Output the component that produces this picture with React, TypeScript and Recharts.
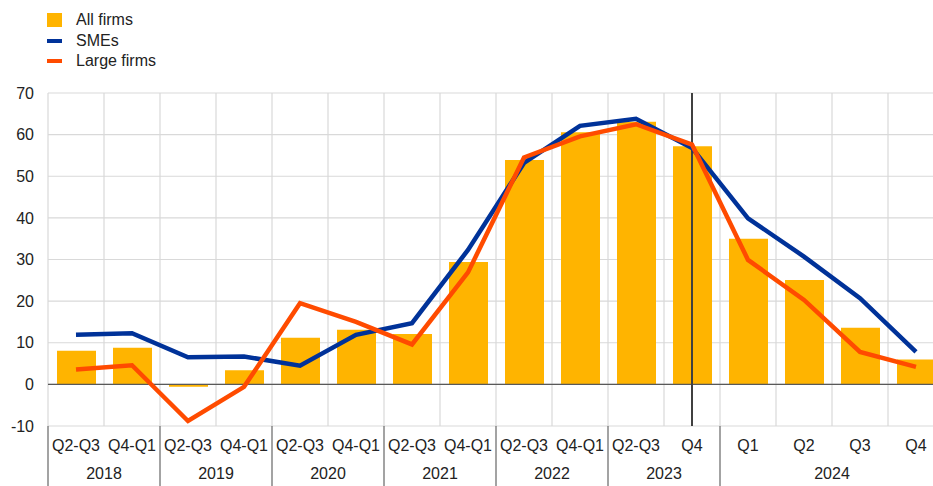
import { ComposedChart, Bar, Line, XAxis, YAxis, CartesianGrid, ReferenceLine } from 'recharts'

// Survey periods (x axis), year groups and series values in %
const periods = [
  'Q2-Q3', 'Q4-Q1', 'Q2-Q3', 'Q4-Q1', 'Q2-Q3', 'Q4-Q1', 'Q2-Q3', 'Q4-Q1',
  'Q2-Q3', 'Q4-Q1', 'Q2-Q3', 'Q4', 'Q1', 'Q2', 'Q3', 'Q4',
]
const years = [
  '2018', '2018', '2019', '2019', '2020', '2020', '2021', '2021',
  '2022', '2022', '2023', '2023', '2024', '2024', '2024', '2024',
]
const allFirms = [8.1, 8.8, -0.6, 3.4, 11.2, 13.1, 12.1, 29.4, 53.9, 60.6, 63.1, 57.2, 35.0, 25.1, 13.6, 6.0]
const smes = [11.9, 12.3, 6.5, 6.7, 4.5, 11.9, 14.7, 32.3, 53.2, 62.1, 63.8, 56.8, 39.9, 30.7, 20.7, 7.8]
const largeFirms = [3.6, 4.6, -8.8, -0.6, 19.5, 15.0, 9.6, 26.9, 54.5, 59.6, 62.5, 57.6, 29.9, 20.3, 7.8, 4.2]
const yTicks = [-10, 0, 10, 20, 30, 40, 50, 60, 70]
const markerKey = '2023 Q4'

const COLORS = {
  all: '#FFB400',
  smes: '#003299',
  large: '#FF4B00',
  grid: '#d9d9d9',
  text: '#222222',
}

const FONT = '"Liberation Sans", Arial, sans-serif'

const CHART_W = 950
const CHART_H = 486
const Y_AXIS_W = 48
const RIGHT_MARGIN = 6
const PLOT_W = CHART_W - Y_AXIS_W - RIGHT_MARGIN
const BAND = PLOT_W / periods.length

const data = periods.map((p, i) => ({
  key: `${years[i]} ${p}`,
  period: p,
  year: years[i],
  all: allFirms[i],
  smes: smes[i],
  large: largeFirms[i],
}))

function PeriodTick(props: any) {
  const { x, y, index } = props
  const row = data[index]
  if (!row) return null
  const isGroupStart = index === 0 || data[index - 1].year !== row.year
  let groupSize = 0
  if (isGroupStart) {
    let j = index
    while (j < data.length && data[j].year === row.year) {
      groupSize++
      j++
    }
  }
  const left = x - BAND / 2
  return (
    <g>
      <text x={x} y={y + 25} textAnchor="middle" fill={COLORS.text} fontSize={16} fontFamily={FONT}>
        {row.period}
      </text>
      {isGroupStart && (
        <>
          <line x1={left} x2={left} y1={y} y2={y + 62} stroke="#666" strokeWidth={1.2} />
          <text
            x={left + (groupSize * BAND) / 2}
            y={y + 53}
            textAnchor="middle"
            fill={COLORS.text}
            fontSize={16}
            fontFamily={FONT}
          >
            {row.year}
          </text>
        </>
      )}
    </g>
  )
}

function LegendBox() {
  const items = [
    { name: 'All firms', color: COLORS.all, type: 'box' },
    { name: 'SMEs', color: COLORS.smes, type: 'line' },
    { name: 'Large firms', color: COLORS.large, type: 'line' },
  ]
  return (
    <div style={{ position: 'absolute', left: 47, top: 10, fontFamily: FONT, fontSize: 16, color: COLORS.text }}>
      {items.map((it) => (
        <div key={it.name} style={{ display: 'flex', alignItems: 'center', height: 20.5 }}>
          <span
            style={{
              display: 'inline-block',
              width: 15,
              height: it.type === 'box' ? 14 : 4,
              backgroundColor: it.color,
            }}
          />
          <span style={{ marginLeft: 14, lineHeight: '20px' }}>{it.name}</span>
        </div>
      ))}
    </div>
  )
}

export default function App() {
  return (
    <div style={{ position: 'absolute', left: 0, top: 0, width: 933, height: 486, overflow: 'hidden', background: '#fff' }}>
      <LegendBox />
      <ComposedChart
        width={CHART_W}
        height={CHART_H}
        data={data}
        margin={{ top: 93, right: RIGHT_MARGIN, left: 0, bottom: 0 }}
        barSize={39}
      >
        <CartesianGrid
          stroke={COLORS.grid}
          strokeWidth={1.2}
          verticalCoordinatesGenerator={({ offset }: any) =>
            periods.map((_, i) => offset.left + (i * offset.width) / periods.length).concat(offset.left + offset.width)
          }
        />
        <XAxis
          dataKey="key"
          interval={0}
          tickLine={false}
          axisLine={false}
          tickSize={0}
          tickMargin={0}
          height={CHART_H - 426}
          tick={<PeriodTick />}
        />
        <YAxis
          width={Y_AXIS_W}
          domain={[-10, 70]}
          ticks={yTicks}
          interval={0}
          tickLine={false}
          axisLine={false}
          tickSize={6}
          tickMargin={8}
          tick={{ fill: COLORS.text, fontSize: 16, fontFamily: FONT }}
        />
        <Bar dataKey="all" name="All firms" fill={COLORS.all} isAnimationActive={false} />
        <ReferenceLine y={0} stroke="#595959" strokeWidth={1.3} />
        <ReferenceLine x={markerKey} stroke="#404040" strokeWidth={2} />
        <Line
          type="linear"
          dataKey="smes"
          name="SMEs"
          stroke={COLORS.smes}
          strokeWidth={4.5}
          dot={false}
          activeDot={false}
          isAnimationActive={false}
        />
        <Line
          type="linear"
          dataKey="large"
          name="Large firms"
          stroke={COLORS.large}
          strokeWidth={4.5}
          dot={false}
          activeDot={false}
          isAnimationActive={false}
        />
      </ComposedChart>
    </div>
  )
}
